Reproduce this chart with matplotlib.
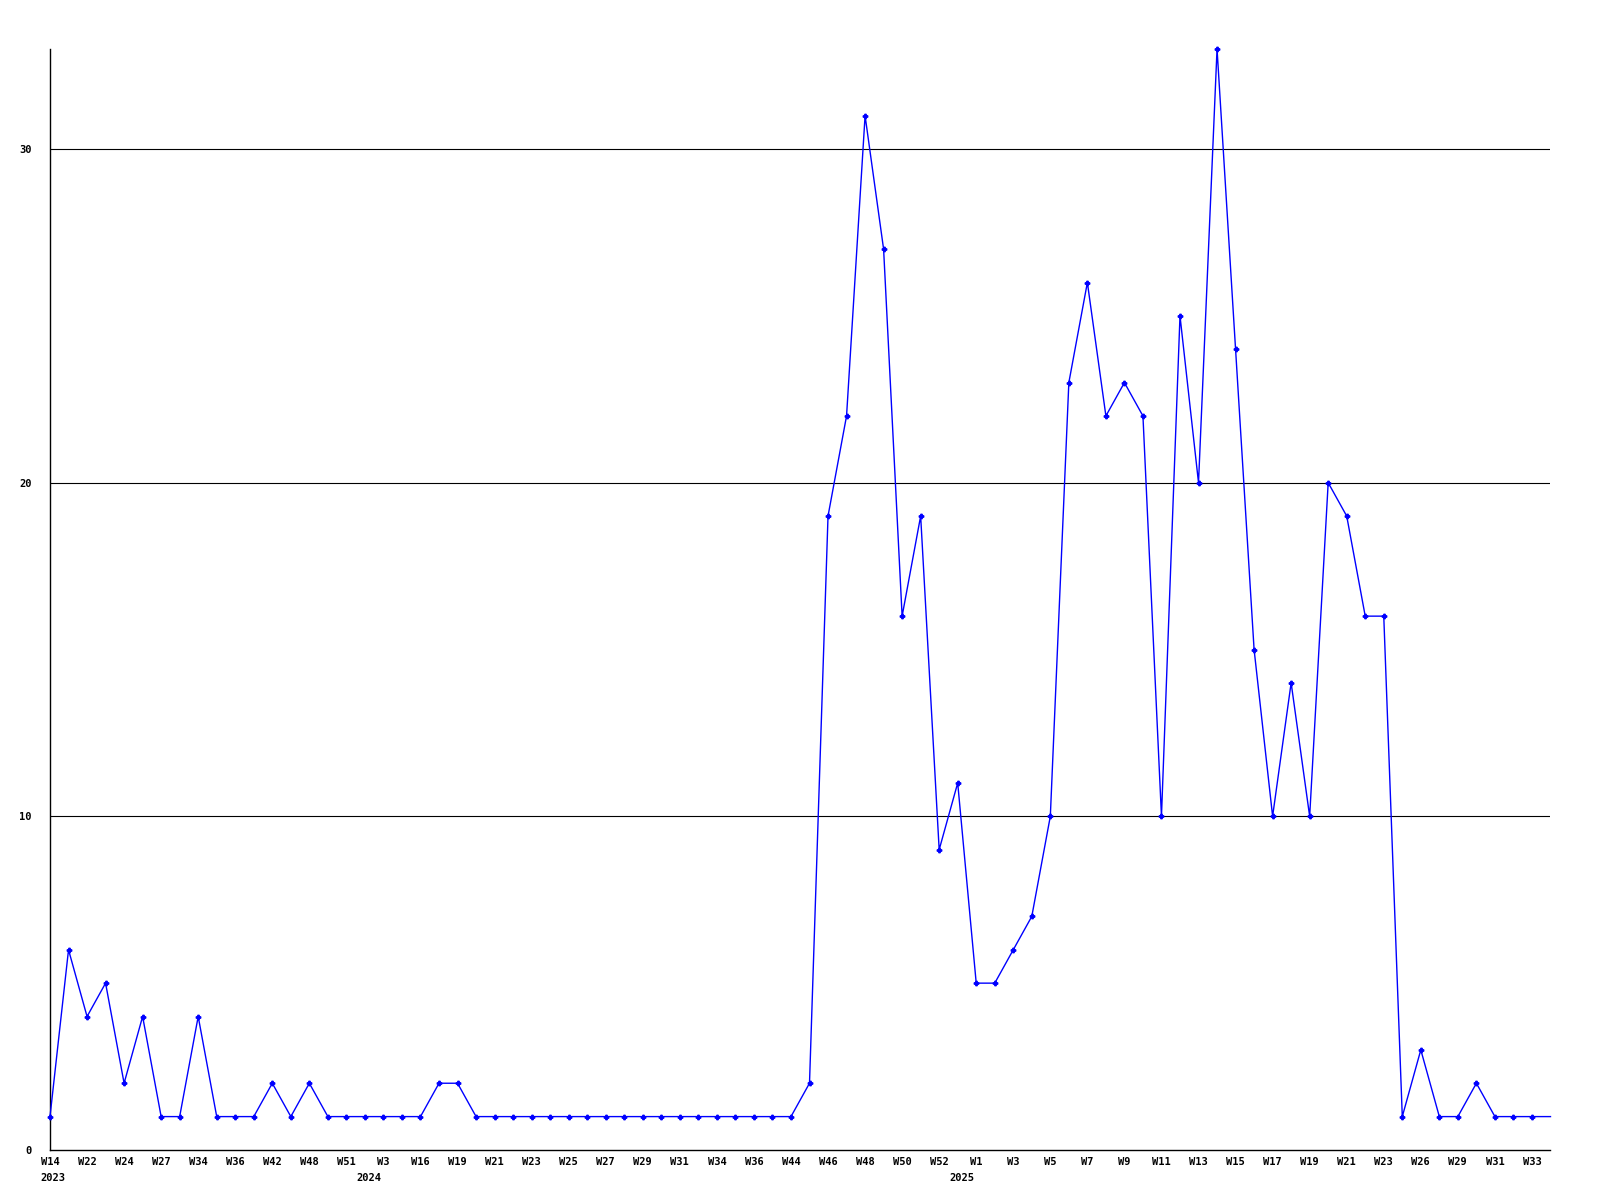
import matplotlib
matplotlib.use("Agg")
import matplotlib.pyplot as plt

values = [1, 6, 4, 5, 2, 4, 1, 1, 4, 1,
          1, 1, 2, 1, 2, 1, 1, 1, 1, 1,
          1, 2, 2, 1, 1, 1, 1, 1, 1, 1,
          1, 1, 1, 1, 1, 1, 1, 1, 1, 1,
          1, 2, 19, 22, 31, 27, 16, 19, 9, 11,
          5, 5, 6, 7, 10, 23, 26, 22, 23, 22,
          10, 25, 20, 33, 24, 15, 10, 14, 10, 20,
          19, 16, 16, 1, 3, 1, 1, 2, 1, 1,
          1, 1]

tick_labels = ["W14", "W22", "W24", "W27", "W34", "W36", "W42", "W48", "W51", "W3",
               "W16", "W19", "W21", "W23", "W25", "W27", "W29", "W31", "W34", "W36",
               "W44", "W46", "W48", "W50", "W52", "W1", "W3", "W5", "W7", "W9",
               "W11", "W13", "W15", "W17", "W19", "W21", "W23", "W26", "W29", "W31",
               "W33"]

year_labels = ["2023", "2024", "2025"]
year_points = [0, 18, 50]

y_ticks = [0, 10, 20, 30]

fig = plt.figure(figsize=(16, 12), dpi=100)
ax = fig.add_axes([0.03125, 0.0417, 0.9378, 0.9175])

x = list(range(len(values)))
ax.plot(x, values, color="#0000ff", linewidth=1.0, marker="P", markersize=3.2,
        markevery=list(range(len(values) - 1)), clip_on=False, zorder=3)

ax.set_xlim(0, len(values) - 1)
ax.set_ylim(0, 33)

for yv in y_ticks[1:]:
    ax.axhline(yv, color="black", linewidth=0.8, zorder=1)

font = dict(family="DejaVu Sans Mono", fontsize=7.5, fontweight="bold")
ax.set_yticks(y_ticks)
ax.set_yticklabels([str(v) for v in y_ticks], **font)
ax.set_xticks(list(range(0, len(values) - 1, 2)))
ax.set_xticklabels(tick_labels, **font)
ax.tick_params(axis="both", length=0)
ax.tick_params(axis="y", pad=13)
ax.tick_params(axis="x", pad=5)

for lbl, p in zip(year_labels, year_points):
    off = 0.15 if p == 0 else -0.8
    ax.text(p + off, -0.68, lbl, ha="center", va="top", **font)

for s in ["top", "right"]:
    ax.spines[s].set_visible(False)
for s in ["left", "bottom"]:
    ax.spines[s].set_linewidth(1.0)
    ax.spines[s].set_color("black")

fig.savefig("out.png", dpi=100)
